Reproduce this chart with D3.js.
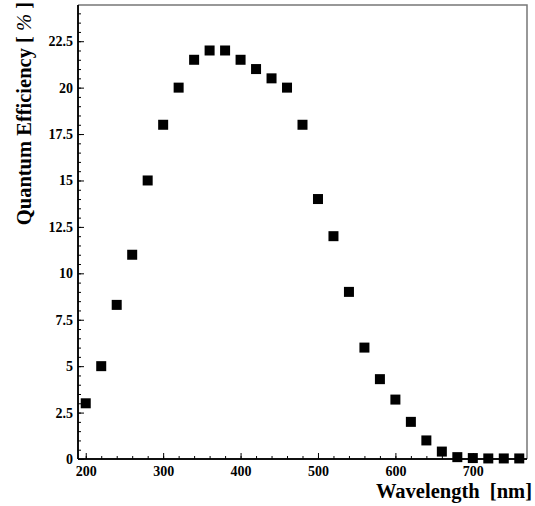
<!DOCTYPE html>
<html>
<head>
<meta charset="utf-8">
<script src="https://cdn.jsdelivr.net/npm/d3@7"></script>
<style>
  body { margin: 0; background: #fff; }
  svg { display: block; }
  text { font-family: "Liberation Serif", "Times New Roman", serif; font-weight: bold; }
</style>
</head>
<body>
<div id="chart"></div>
<script>
// quantum efficiency vs wavelength
const wavelength = [200, 220, 240, 260, 280, 300, 320, 340, 360, 380, 400, 420, 440, 460, 480,
                    500, 520, 540, 560, 580, 600, 620, 640, 660, 680, 700, 720, 740, 760];
const qe = [3, 5, 8.3, 11, 15, 18, 20, 21.5, 22, 22, 21.5, 21, 20.5, 20, 18,
            14, 12, 9, 6, 4.3, 3.2, 2, 1, 0.4, 0.1, 0.05, 0.03, 0.03, 0.03];
const xTicks = [200, 300, 400, 500, 600, 700];
const yTicks = [0, 2.5, 5, 7.5, 10, 12.5, 15, 17.5, 20, 22.5];

const W = 535, H = 506;
const m = {left: 78, right: 8, top: 5, bottom: 47};

const svg = d3.select("#chart").append("svg")
    .attr("width", W).attr("height", H);

const x = d3.scaleLinear().domain([190, 770]).range([m.left, W - m.right]);
const y = d3.scaleLinear().domain([0, 24.45]).range([H - m.bottom, m.top]);

// frame (top + right in gray)
svg.append("path")
    .attr("d", `M${x(190)},${y(24.45)}H${x(770)}V${y(0)}`)
    .attr("fill", "none").attr("stroke", "#777").attr("stroke-width", 1.5);

// x axis
const gx = svg.append("g").attr("transform", `translate(0,${y(0)})`);
gx.append("g").call(d3.axisBottom(x).tickValues(d3.range(200, 770, 20)).tickSize(-3).tickFormat(""));
gx.append("g").call(d3.axisBottom(x).tickValues(xTicks).tickSize(-6).tickPadding(7).tickFormat(d3.format("d")));
gx.selectAll(".domain").attr("stroke", "#000").attr("stroke-width", 1.5)
    .attr("d", `M${x(190)},0H${x(770)}`);
gx.selectAll("line").attr("stroke", "#000");
gx.selectAll("text").attr("font-size", 14).attr("fill", "#000");

// y axis
const gy = svg.append("g").attr("transform", `translate(${x(190)},0)`);
gy.append("g").call(d3.axisLeft(y).tickValues(d3.range(0, 24.45, 0.5)).tickSize(-3).tickFormat(""));
gy.append("g").call(d3.axisLeft(y).tickValues(yTicks).tickSize(-6).tickPadding(5).tickFormat(d => d));
gy.selectAll(".domain").attr("stroke", "#000").attr("stroke-width", 1.5)
    .attr("d", `M0,${y(0)}V${y(24.45)}`);
gy.selectAll("line").attr("stroke", "#000");
gy.selectAll("text").attr("font-size", 14).attr("fill", "#000");

// markers
const s = 10;
svg.append("g").selectAll("rect")
    .data(wavelength)
    .join("rect")
    .attr("x", (d) => x(d) - s / 2)
    .attr("y", (d, i) => y(qe[i]) - s / 2)
    .attr("width", s).attr("height", s)
    .attr("fill", "#000");

// axis titles
svg.append("text")
    .attr("x", W - 3).attr("y", 498)
    .attr("text-anchor", "end")
    .attr("font-size", 20.5)
    .attr("xml:space", "preserve")
    .text("Wavelength  [nm]");

const yl = svg.append("text")
    .attr("transform", `translate(31,2) rotate(-90)`)
    .attr("text-anchor", "end")
    .attr("font-size", 20.5);
yl.append("tspan").text("Quantum Efficiency [ ");
yl.append("tspan").attr("font-weight", "normal").attr("font-style", "italic").text("%");
yl.append("tspan").text(" ]");
</script>
</body>
</html>
